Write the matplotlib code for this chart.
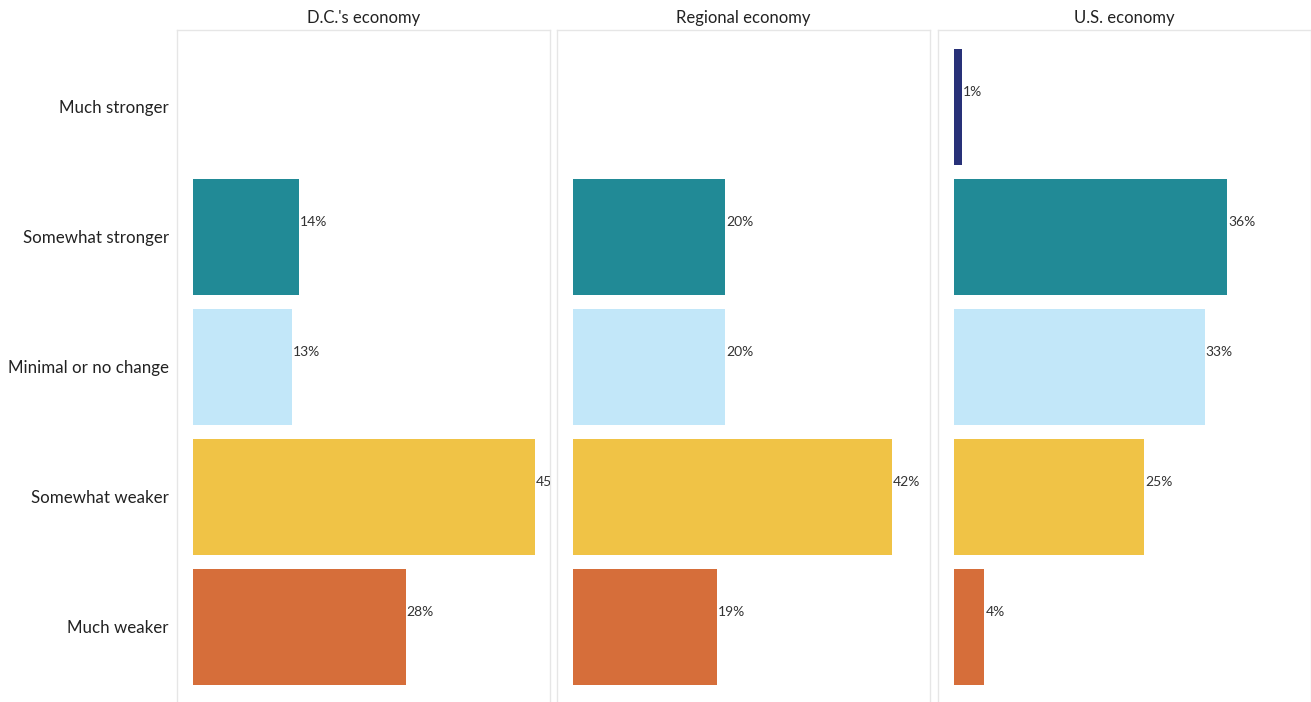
import matplotlib
matplotlib.use("Agg")
import matplotlib.pyplot as plt

# Survey responses: expected change in the economy, by scope
categories = ["Much stronger", "Somewhat stronger", "Minimal or no change",
              "Somewhat weaker", "Much weaker"]
panels = ["D.C.'s economy", "Regional economy", "U.S. economy"]
dc_values = [0, 14, 13, 45, 28]
regional_values = [0, 20, 20, 42, 19]
us_values = [1, 36, 33, 25, 4]

colors = ["#283178", "#218a96", "#c2e7f9", "#f0c346", "#d66e3a"]

plt.rcParams["font.family"] = ["Lato", "DejaVu Sans"]

fig = plt.figure(figsize=(13.11, 7.02), dpi=100)
W, H = 1311, 702
lefts = [177, 557, 938]
panel_w = 373
top_px = 30

for k, (title, vals) in enumerate(zip(panels, [dc_values, regional_values, us_values])):
    ax = fig.add_axes([lefts[k] / W, 0, panel_w / W, 1 - top_px / H])
    ys = list(range(len(categories)))
    for i, v in enumerate(vals):
        if v == 0:
            continue
        ax.barh(i, v, height=0.895, color=colors[i], edgecolor="none")
        ax.annotate(f"{v}%", xy=(v, i), xytext=(1, 15), textcoords="offset pixels",
                    ha="left", va="center", fontsize=10, color="#333333",
                    annotation_clip=False, clip_on=True)
    ax.set_xlim(-2.1, 47.0)
    ax.set_ylim(4.577, -0.592)
    ax.set_xticks([])
    ax.set_yticks(ys)
    if k == 0:
        ax.set_yticklabels(categories, fontsize=12.2, color="#222222")
    else:
        ax.set_yticklabels([])
    ax.tick_params(axis="y", length=0, pad=6)
    for side in ["top", "left", "right"]:
        ax.spines[side].set_color("#e6e6e6")
        ax.spines[side].set_linewidth(1)
    ax.spines["bottom"].set_visible(False)
    ax.set_title(title, fontsize=12, color="#222222", pad=5)

fig.savefig("out.png", dpi=100, facecolor="white")
